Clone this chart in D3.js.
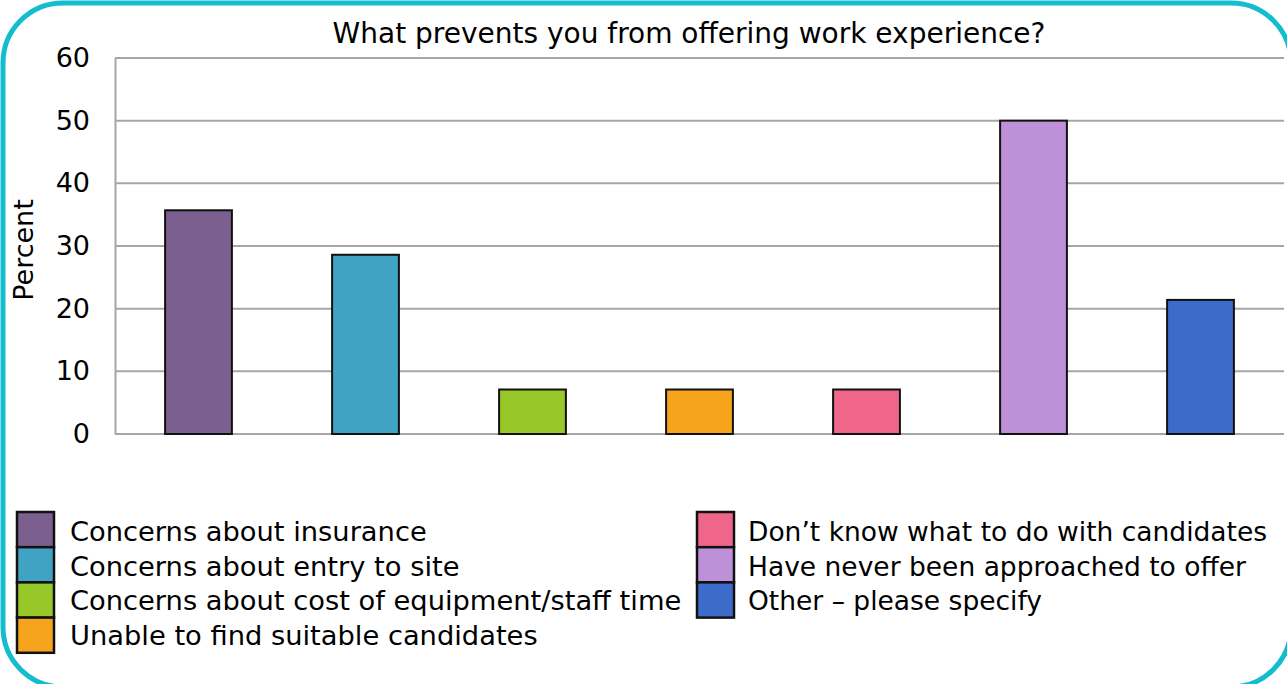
<!DOCTYPE html>
<html>
<head>
<meta charset="utf-8">
<script src="https://cdn.jsdelivr.net/npm/d3@7"></script>
<style>
  body { margin: 0; background: #fff; }
  svg text { font-family: "DejaVu Sans", sans-serif; fill: #000; }
</style>
</head>
<body>
<svg id="chart" width="1287" height="684"></svg>
<script>
const categories = [
    "Concerns about insurance",
    "Concerns about entry to site",
    "Concerns about cost of equipment/staff time",
    "Unable to find suitable candidates",
    "Don\u2019t know what to do with candidates",
    "Have never been approached to offer",
    "Other \u2013 please specify"
];
const values = [35.7, 28.6, 7.1, 7.1, 7.1, 50, 21.4];
const colors = ["#7b5f8e", "#41a3c3", "#97c829", "#f5a41b", "#f0668a", "#be90d8", "#3d6bcc"];
const yTicks = [0, 10, 20, 30, 40, 50, 60];

const svg = d3.select('#chart');
const width = +svg.attr('width');
const height = +svg.attr('height');

// frame
svg.append('rect')
    .attr('x', 3).attr('y', 3)
    .attr('width', 1288).attr('height', 684)
    .attr('rx', 60).attr('ry', 60)
    .attr('fill', 'none')
    .attr('stroke', '#14bccf')
    .attr('stroke-width', 5);

const plotLeft = 115, plotRight = 1284, plotTop = 58, plotBottom = 434;

const x = d3.scaleBand()
    .domain(categories)
    .range([plotLeft, plotRight])
    .paddingInner(0.6)
    .paddingOuter(0.3);

const y = d3.scaleLinear()
    .domain([0, 60])
    .range([plotBottom, plotTop]);

// grid lines
svg.append('g')
    .selectAll('line')
    .data(yTicks)
    .join('line')
    .attr('x1', plotLeft)
    .attr('x2', plotRight)
    .attr('y1', d => y(d))
    .attr('y2', d => y(d))
    .attr('stroke', '#a6a6a6')
    .attr('stroke-width', 2);

// y axis
const yAxis = svg.append('g')
    .attr('transform', `translate(${plotLeft},0)`)
    .call(d3.axisLeft(y).tickValues(yTicks).tickSize(0).tickPadding(25));
yAxis.select('.domain').attr('stroke', '#a6a6a6').attr('stroke-width', 2);
yAxis.selectAll('text')
    .style('font-size', '27px')
    .style('font-family', '"DejaVu Sans", sans-serif');

svg.append('text')
    .attr('transform', `translate(33, ${(plotTop + plotBottom) / 2 + 4}) rotate(-90)`)
    .attr('text-anchor', 'middle')
    .style('font-size', '27px')
    .text('Percent');

// bars
svg.append('g')
    .selectAll('rect')
    .data(values)
    .join('rect')
    .attr('x', (d, i) => x(categories[i]))
    .attr('y', d => y(d))
    .attr('width', x.bandwidth())
    .attr('height', d => y(0) - y(d))
    .attr('fill', (d, i) => colors[i])
    .attr('stroke', '#111')
    .attr('stroke-width', 2);

// title
svg.append('text')
    .attr('x', 689)
    .attr('y', 43)
    .attr('text-anchor', 'middle')
    .style('font-size', '28px')
    .text('What prevents you from offering work experience?');

// legend
const legendCols = [
    {x: 17, tx: 70, size: 27.3, items: [0, 1, 2, 3]},
    {x: 697, tx: 748, size: 26.5, items: [4, 5, 6]}
];
const rowH = 35.2;
legendCols.forEach(col => {
    const g = svg.append('g');
    g.selectAll('rect')
        .data(col.items)
        .join('rect')
        .attr('x', col.x)
        .attr('y', (d, i) => 512 + i * rowH)
        .attr('width', 37)
        .attr('height', rowH)
        .attr('fill', d => colors[d])
        .attr('stroke', '#111')
        .attr('stroke-width', 2.5);
    g.selectAll('text')
        .data(col.items)
        .join('text')
        .attr('x', col.tx)
        .attr('y', (d, i) => 541 + i * 34.5)
        .style('font-size', col.size + 'px')
        .text(d => categories[d]);
});
</script>
</body>
</html>
